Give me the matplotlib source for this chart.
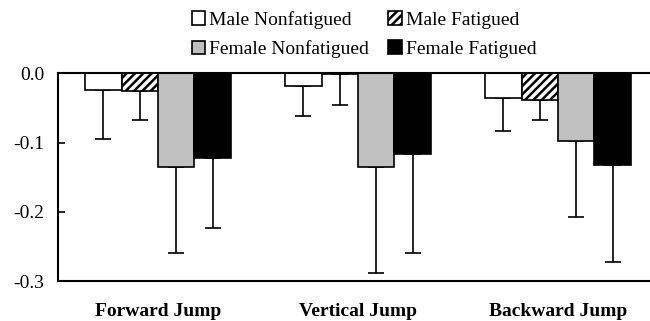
import numpy as np
import matplotlib.pyplot as plt

categories = ["Forward Jump", "Vertical Jump", "Backward Jump"]
series = ["Male Nonfatigued", "Male Fatigued", "Female Nonfatigued", "Female Fatigued"]

male_nonfat = [-0.024, -0.019, -0.035]
male_fat = [-0.025, -0.001, -0.038]
female_nonfat = [-0.136, -0.136, -0.098]
female_fat = [-0.123, -0.116, -0.133]

male_nonfat_sd = [0.071, 0.043, 0.048]
male_fat_sd = [0.043, 0.045, 0.029]
female_nonfat_sd = [0.123, 0.153, 0.110]
female_fat_sd = [0.100, 0.144, 0.140]

yticks = [0.0, -0.1, -0.2, -0.3]

plt.rcParams['font.family'] = ['Liberation Serif', 'DejaVu Serif']
plt.rcParams['hatch.linewidth'] = 1.8

fig = plt.figure(figsize=(6.5, 3.21), dpi=100)
ax = fig.add_axes([58 / 650, 1 - 281 / 321, 600 / 650, (281 - 73.3) / 321])

values = [male_nonfat, male_fat, female_nonfat, female_fat]
errs = [male_nonfat_sd, male_fat_sd, female_nonfat_sd, female_fat_sd]
colors = ["white", "white", "#c0c0c0", "black"]
hatches = [None, "////", None, None]

x = np.arange(len(categories))
w = 1 / 5.5
bars = []
for i in range(4):
    pos = x + (i - 1.5) * w
    b = ax.bar(pos, values[i], w, color=colors[i], edgecolor="black", linewidth=1.2,
               hatch=hatches[i], label=series[i], zorder=2)
    bars.append(b)
    ax.errorbar(pos, values[i], yerr=[errs[i], np.zeros(3)], fmt="none",
                ecolor="black", elinewidth=1.2, capsize=5.5, capthick=1.2, zorder=1)

ax.set_xlim(-0.5, 2.5)
ax.set_ylim(-0.3, 0.0)
ax.set_yticks(yticks)
ax.set_yticklabels([f"{t:.1f}" for t in yticks], fontsize=14)
ax.tick_params(axis="y", direction="in", length=5, width=1.2, pad=10)
ax.set_xticks(x)
ax.set_xticklabels(categories, fontsize=14, fontweight="bold")
ax.tick_params(axis="x", length=0, pad=16)
for s in ax.spines.values():
    s.set_linewidth(1.5)

# legend is filled by column, so reorder to get rows: male / female
order = [0, 2, 1, 3]
fig.legend([bars[k] for k in order], [series[k] for k in order],
           loc="upper center", bbox_to_anchor=(364 / 650, 1.0), ncol=2, frameon=False,
           fontsize=14, handlelength=0.7, handleheight=0.7, handletextpad=0.2,
           columnspacing=1.0, labelspacing=0.6, borderpad=0.05)

fig.savefig("out.png", dpi=100)
